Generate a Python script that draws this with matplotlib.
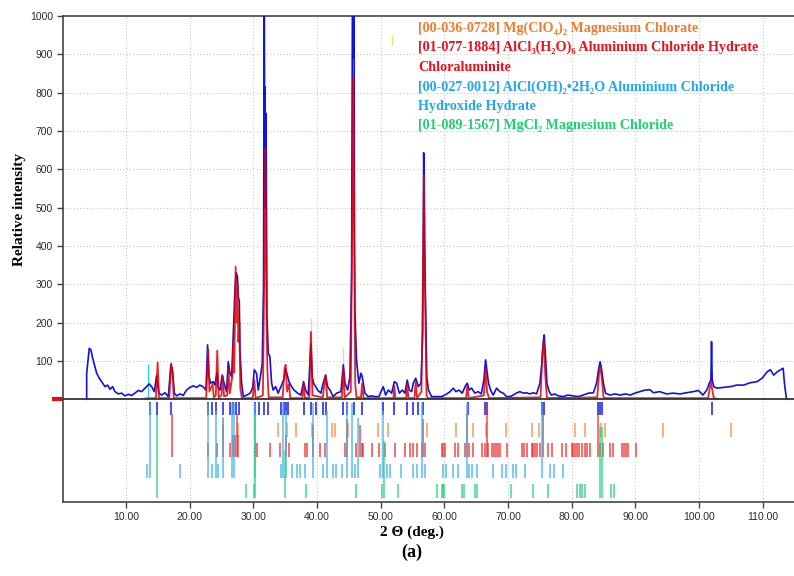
import matplotlib
matplotlib.use("Agg")
import matplotlib.pyplot as plt

blue_deg = [3.83, 3.83, 4.24, 4.5, 4.72, 4.98, 5.4, 5.81, 6.18, 6.7, 7.12, 7.49, 7.91, 8.27, 8.8,
            9.32, 9.84, 10.37, 10.9, 11.4, 11.94, 12.46, 12.98, 13.35, 13.66, 14.03, 14.45, 14.81,
            15.18, 15.6, 16.13, 16.65, 17.06, 17.3, 17.6, 17.95, 18.5, 19.0, 19.5, 20.05, 20.57,
            21.1, 21.6, 22.1, 22.56, 22.82, 23.03, 23.3, 23.71, 23.97, 24.3, 24.5, 24.76, 25.12,
            25.4, 25.8, 26.06, 26.33, 26.6, 26.85, 27.1, 27.3, 27.5, 27.64, 27.8, 27.9, 28.16,
            28.43, 28.96, 29.5, 29.9, 30.15, 30.5, 30.77, 31.19, 31.4, 31.6, 31.72, 31.78, 31.85,
            31.92, 32.0, 32.14, 32.35, 32.6, 32.87, 33.13, 33.5, 33.9, 34.44, 34.86, 35.07, 35.33,
            35.6, 36.0, 36.4, 36.95, 37.47, 37.89, 38.2, 38.62, 39.04, 39.25, 39.46, 39.78, 40.1,
            40.6, 40.97, 41.35, 41.66, 42.03, 42.55, 43.08, 43.76, 44.13, 44.39, 44.81, 45.17,
            45.43, 45.58, 45.66, 45.72, 45.8, 45.88, 45.95, 46.2, 46.57, 46.9, 47.1, 47.52, 48.05,
            48.57, 49.1, 49.72, 50.4, 50.77, 51.2, 51.72, 52.14, 52.5, 52.93, 53.4, 53.8, 54.17,
            54.5, 54.86, 55.12, 55.5, 55.9, 56.33, 56.6, 56.75, 56.82, 56.9, 57.07, 57.23, 57.5,
            58.0, 58.8, 59.6, 60.38, 60.9, 61.39, 61.8, 62.3, 62.8, 63.37, 63.6, 63.9, 64.27, 64.8,
            65.3, 65.8, 66.2, 66.47, 66.73, 66.93, 67.25, 67.67, 68.2, 68.7, 69.24, 69.76, 70.3,
            70.8, 71.3, 71.84, 72.4, 72.9, 73.4, 73.95, 74.47, 75.0, 75.3, 75.5, 75.67, 75.88, 76.1,
            76.45, 76.82, 77.3, 77.87, 78.65, 79.4, 80.2, 81.0, 81.8, 82.6, 83.4, 83.9, 84.2, 84.45,
            84.7, 84.97, 85.3, 86.0, 86.8, 87.6, 88.4, 89.2, 89.9, 90.7, 91.5, 92.3, 92.8, 93.8,
            94.9, 95.9, 97.0, 98.0, 99.1, 99.9, 100.6, 101.2, 101.6, 101.85, 101.95, 102.05, 102.3,
            102.8, 103.8, 104.9, 105.9, 107.0, 108.0, 109.1, 109.9, 110.7, 111.2, 111.7, 112.3,
            112.8, 113.2, 113.4, 113.7, 113.8]
blue_int = [0, 68, 133, 129, 111, 94, 68, 55, 46, 33, 37, 26, 33, 20, 14,
            16, 9, 13, 10, 16, 23, 20, 29, 35, 40, 33, 20, 61,
            16, 11, 17, 7, 90, 77, 16, 9, 14, 10, 24, 31, 35,
            31, 37, 33, 24, 142, 59, 42, 46, 37, 70, 30, 24, 63,
            42, 20, 98, 68, 59, 172, 280, 330, 320, 268, 255, 129, 42,
            7, 11, 16, 30, 77, 68, 24, 68, 94, 300, 1150, 600, 815,
            500, 746, 216, 120, 111, 42, 24, 33, 16, 37, 55, 80, 63,
            46, 33, 24, 16, 11, 46, 24, 11, 146, 59, 42, 33, 24,
            16, 42, 63, 33, 24, 7, 16, 20, 90, 42, 24, 59,
            320, 1150, 950, 890, 1150, 430, 233, 103, 42, 68, 59, 16, 7,
            9, 7, 7, 33, 11, 24, 16, 46, 42, 16, 24, 16, 50,
            24, 20, 42, 55, 33, 42, 172, 643, 560, 400, 216, 59, 24,
            7, 7, 7, 14, 20, 29, 20, 24, 16, 37, 42, 24, 29, 16,
            20, 14, 50, 103, 68, 42, 24, 11, 29, 20, 16, 7, 7,
            11, 16, 20, 16, 17, 14, 17, 14, 42, 94, 146, 168, 111, 42,
            20, 11, 14, 9, 7, 11, 9, 7, 11, 16, 17, 42, 77, 98,
            77, 42, 16, 11, 14, 11, 14, 11, 16, 20, 24, 25, 17, 20,
            14, 16, 14, 17, 20, 23, 11, 24, 42, 50, 150, 50, 33,
            29, 31, 33, 37, 37, 43, 46, 55, 72, 77, 63, 72,
            77, 81, 42, 3, 0]

# calculated profile
red_deg = [13.0, 14.7, 14.97, 15.2, 16.8, 17.1, 17.35, 17.5, 22.6, 22.9, 23.1, 23.6, 23.8, 24.1,
           24.34, 24.55, 25.0, 25.2, 25.4, 25.9, 26.1, 26.3, 26.7, 26.85, 27.0, 27.22, 27.4,
           27.5, 27.65, 27.8, 27.95, 28.2, 29.9, 30.15, 30.35, 31.5, 31.7, 31.87, 32.05, 32.2,
           32.4, 34.6, 34.9, 35.07, 35.3, 35.6, 35.8, 37.7, 37.89, 38.1, 38.8, 39.04, 39.3, 40.9,
           41.35, 41.6, 43.9, 44.13, 44.35, 45.3, 45.55, 45.7, 45.85, 46.0, 46.2, 46.9, 47.1,
           47.3, 52.0, 52.14, 52.3, 54.0, 54.17, 54.35, 55.3, 55.5, 55.7, 56.4, 56.7, 56.8, 56.95,
           57.2, 57.4, 63.4, 63.6, 63.8, 66.2, 66.47, 66.7, 67.0, 75.1, 75.4, 75.6, 75.85, 76.1,
           84.0, 84.3, 84.5, 84.75, 85.0, 101.4, 101.85, 102.3, 103.0]
red_int = [2, 3, 96, 3, 3, 94, 60, 3, 3, 130, 20, 40, 5, 10,
           127, 5, 10, 60, 8, 10, 80, 15, 60, 140, 70, 346, 200,
           300, 150, 200, 30, 3, 3, 50, 3, 10, 300, 655, 250, 80,
           5, 5, 80, 90, 20, 40, 3, 3, 40, 3, 5, 176, 10, 5,
           63, 5, 5, 81, 5, 20, 500, 838, 400, 40, 5, 5, 42,
           3, 3, 35, 3, 3, 40, 3, 3, 45, 3, 20, 400, 585, 300,
           10, 3, 3, 35, 3, 10, 80, 20, 3, 5, 120, 150, 60, 3,
           5, 70, 85, 50, 3, 3, 45, 3, 1]

# sample peak list (dark blue ticks)
peak_pos = [13.77, 14.92, 17.07, 22.93, 23.45, 24.08, 25.18, 26.33, 26.85, 27.27, 27.69, 30.25,
            30.9, 31.7, 32.34, 34.4, 34.75, 35.12, 35.48, 37.9, 39.1, 39.8, 40.97, 41.35, 44.11,
            44.77, 45.84, 47.0, 50.4, 52.1, 54.1, 55.0, 55.9, 56.7, 63.64, 66.45, 66.75, 75.35,
            75.67, 84.2, 84.5, 84.8, 101.95]

# reference patterns: position, relative intensity
orange_pos = [25.28, 27.6, 33.9, 35.3, 36.7, 39.25, 42.3, 42.8, 44.9, 49.6, 51.2, 57.2, 61.9,
              64.43, 66.6, 69.65, 73.7, 74.9, 80.5, 82.06, 84.6, 85.3, 94.35, 104.98]
orange_int = [60, 10, 10, 10, 10, 10, 10, 10, 10, 10, 10, 10, 10,
              10, 10, 10, 10, 10, 10, 10, 10, 10, 10, 10]

red_pos = [17.17, 22.93, 24.23, 25.28, 26.33, 26.74, 27.11, 27.37, 27.63, 30.25, 30.51, 32.6,
           34.18, 35.12, 35.64, 38.1, 38.37, 39.4, 40.45, 41.24, 44.38, 44.74, 46.1, 46.73, 47.0,
           47.25, 48.57, 49.77, 50.66, 52.23, 53.8, 54.58, 55.1, 55.63, 56.42, 56.67, 56.94,
           59.56, 59.82, 60.08, 61.65, 62.17, 63.22, 63.58, 63.9, 64.52, 65.84, 66.36, 66.62,
           66.88, 67.4, 67.77, 68.08, 68.45, 68.71, 69.76, 72.12, 72.48, 72.9, 73.69, 73.94, 74.2,
           74.57, 74.99, 75.5, 76.29, 76.83, 78.4, 79.03, 79.97, 80.22, 80.49, 80.75, 81.16,
           81.54, 82.06, 82.42, 82.84, 84.15, 84.41, 84.83, 85.98, 86.5, 87.82, 88.18, 88.49,
           88.85, 90.06]
red_rel = [80, 10, 10, 60, 10, 40, 40, 80, 40, 10, 10, 10,
           10, 40, 10, 10, 10, 60, 10, 10, 10, 70, 10, 60, 10,
           10, 10, 10, 10, 10, 10, 10, 10, 10, 10, 70, 10,
           10, 10, 10, 10, 10, 10, 80, 10, 10, 10, 10, 100,
           10, 10, 10, 10, 10, 10, 10, 10, 10, 10, 10, 10, 10,
           10, 10, 80, 10, 10, 10, 10, 10, 10, 10, 10, 10,
           10, 10, 10, 10, 80, 10, 10, 10, 10, 10, 10, 10,
           10, 10]

cyan_pos = [13.25, 13.77, 18.48, 22.93, 23.55, 24.08, 24.5, 25.28, 26.59, 26.95, 30.25, 34.28,
            34.7, 35.12, 36.1, 36.8, 37.3, 38.1, 39.4, 40.87, 41.5, 42.45, 42.97, 43.86, 44.65,
            45.43, 45.95, 46.47, 49.87, 50.4, 50.92, 51.44, 53.12, 55.1, 55.64, 56.42, 56.94,
            59.8, 60.24, 61.4, 62.2, 63.5, 63.9, 64.3, 65.05, 67.7, 69.0, 69.65, 70.7, 71.3,
            72.6, 75.4, 76.6, 77.2, 78.65]
cyan_rel = [10, 100, 10, 100, 10, 90, 10, 80, 100, 100, 100, 10,
            100, 90, 10, 10, 10, 10, 100, 10, 90, 10, 10, 10, 100,
            100, 10, 80, 10, 90, 10, 10, 10, 10, 10, 100, 10,
            10, 10, 10, 10, 100, 10, 10, 10, 10, 10, 10, 10, 10,
            10, 100, 10, 10, 10]

green_pos = [14.92, 28.84, 30.1, 30.25, 34.96, 38.2, 46.15, 50.14, 50.45, 52.75, 58.8, 59.65,
             59.85, 59.97, 62.7, 63.1, 64.8, 65.1, 70.4, 73.9, 76.2, 80.9, 81.3, 81.6, 82.1,
             84.4, 84.8, 86.2, 86.6]
green_rel = [87, 10, 10, 87, 50, 10, 10, 10, 60, 10, 10, 10,
             10, 10, 10, 10, 10, 10, 10, 10, 10, 10, 10, 10, 10,
             75, 75, 10, 10]

legend_lines = [
    ("[00-036-0728] Mg(ClO\u2084)\u2082 Magnesium Chlorate", "#f07c2c"),
    ("[01-077-1884] AlCl\u2083(H\u2082O)\u2086 Aluminium Chloride Hydrate", "#e8101c"),
    ("Chloraluminite", "#e8101c"),
    ("[00-027-0012] AlCl(OH)\u2082\u20222H\u2082O Aluminium Chloride", "#22a6ee"),
    ("Hydroxide Hydrate", "#22a6ee"),
    ("[01-089-1567] MgCl\u2082 Magnesium Chloride", "#1fcf72"),
]

serif = ["Liberation Serif", "DejaVu Serif"]

fig = plt.figure(figsize=(7.94, 5.76), dpi=100)
ax = fig.add_axes([63.3 / 794, 74 / 576, (794 - 63.3) / 794, 486 / 576])
ax.set_xlim(0.16, 114.9)
ax.set_ylim(-268, 1000)

# grid
for gx in range(10, 111, 10):
    ax.axvline(gx, color="#c8c8c8", lw=0.8, ls=(0, (1, 2)), zorder=0)
for gy in range(100, 1000, 100):
    ax.axhline(gy, color="#c8c8c8", lw=0.8, ls=(0, (1, 2)), zorder=0)

# profiles
ax.plot(blue_deg, blue_int, color="#1212e0", lw=1.2, zorder=3)
ax.plot(red_deg, red_int, color="#e00000", lw=1.3, alpha=0.85, zorder=4)
ax.vlines([13.45], 0, [91], color="#2ad0f0", lw=1.0, zorder=2)
ax.vlines([39.0, 44.1], 0, [211, 137], color="#d8d8d8", lw=1.0, zorder=2)
ax.vlines([51.7], 925, 950, color="#f0e060", lw=1.0)

# zero line and left red marker
ax.axhline(0, color="#333333", lw=1.3, zorder=5)
ax.plot([-1.6, 0.16], [0, 0], color="#e01010", lw=3, clip_on=False, solid_capstyle="butt")

# stick rows
ax.vlines(peak_pos, -40, -8, color="#1a1ae0", lw=1.1)


def sticks(pos, rel, base, scale, color):
    tops = [base + max(35, r * scale) for r in rel]
    ax.vlines(pos, base, tops, color=color, lw=1.1, alpha=0.85)


sticks(orange_pos, orange_int, -98, 0.88, "#f5893e")
sticks(red_pos, red_rel, -150, 1.4, "#ee2a2a")
sticks(cyan_pos, cyan_rel, -205, 1.95, "#3ab2f0")
sticks(green_pos, green_rel, -257, 2.47, "#22d47a")

# axes styling
for side in ["top", "left", "bottom"]:
    ax.spines[side].set_color("#444444")
    ax.spines[side].set_linewidth(1.2)
ax.spines["right"].set_visible(False)
ax.set_yticks(range(100, 1001, 100))
ax.set_xticks(range(10, 111, 10))
ax.set_xticklabels(["%.2f" % v for v in range(10, 111, 10)])
ax.tick_params(labelsize=7.5, labelcolor="#2a2a2a", color="#444444", length=4, width=1)
for lab in ax.get_xticklabels() + ax.get_yticklabels():
    lab.set_family("Liberation Sans")

fig.text(20 / 794, 1 - 210 / 576, "Relative intensity", rotation=90, ha="center", va="center",
         fontsize=11, fontweight="bold", family=serif)
fig.text(412 / 794, 1 - 532 / 576, "2 \u0398 (deg.)", ha="center", va="center",
         fontsize=11, fontweight="bold", family=serif)
fig.text(412 / 794, 1 - 552 / 576, "(a)", ha="center", va="center",
         fontsize=13, fontweight="bold", family=serif)

for i, (txt, col) in enumerate(legend_lines):
    fig.text(418 / 794, 1 - (28 + i * 19.6) / 576, txt, color=col, ha="left", va="center",
             fontsize=10.2, fontweight="bold", family=serif)

fig.savefig("out.png", dpi=100)
